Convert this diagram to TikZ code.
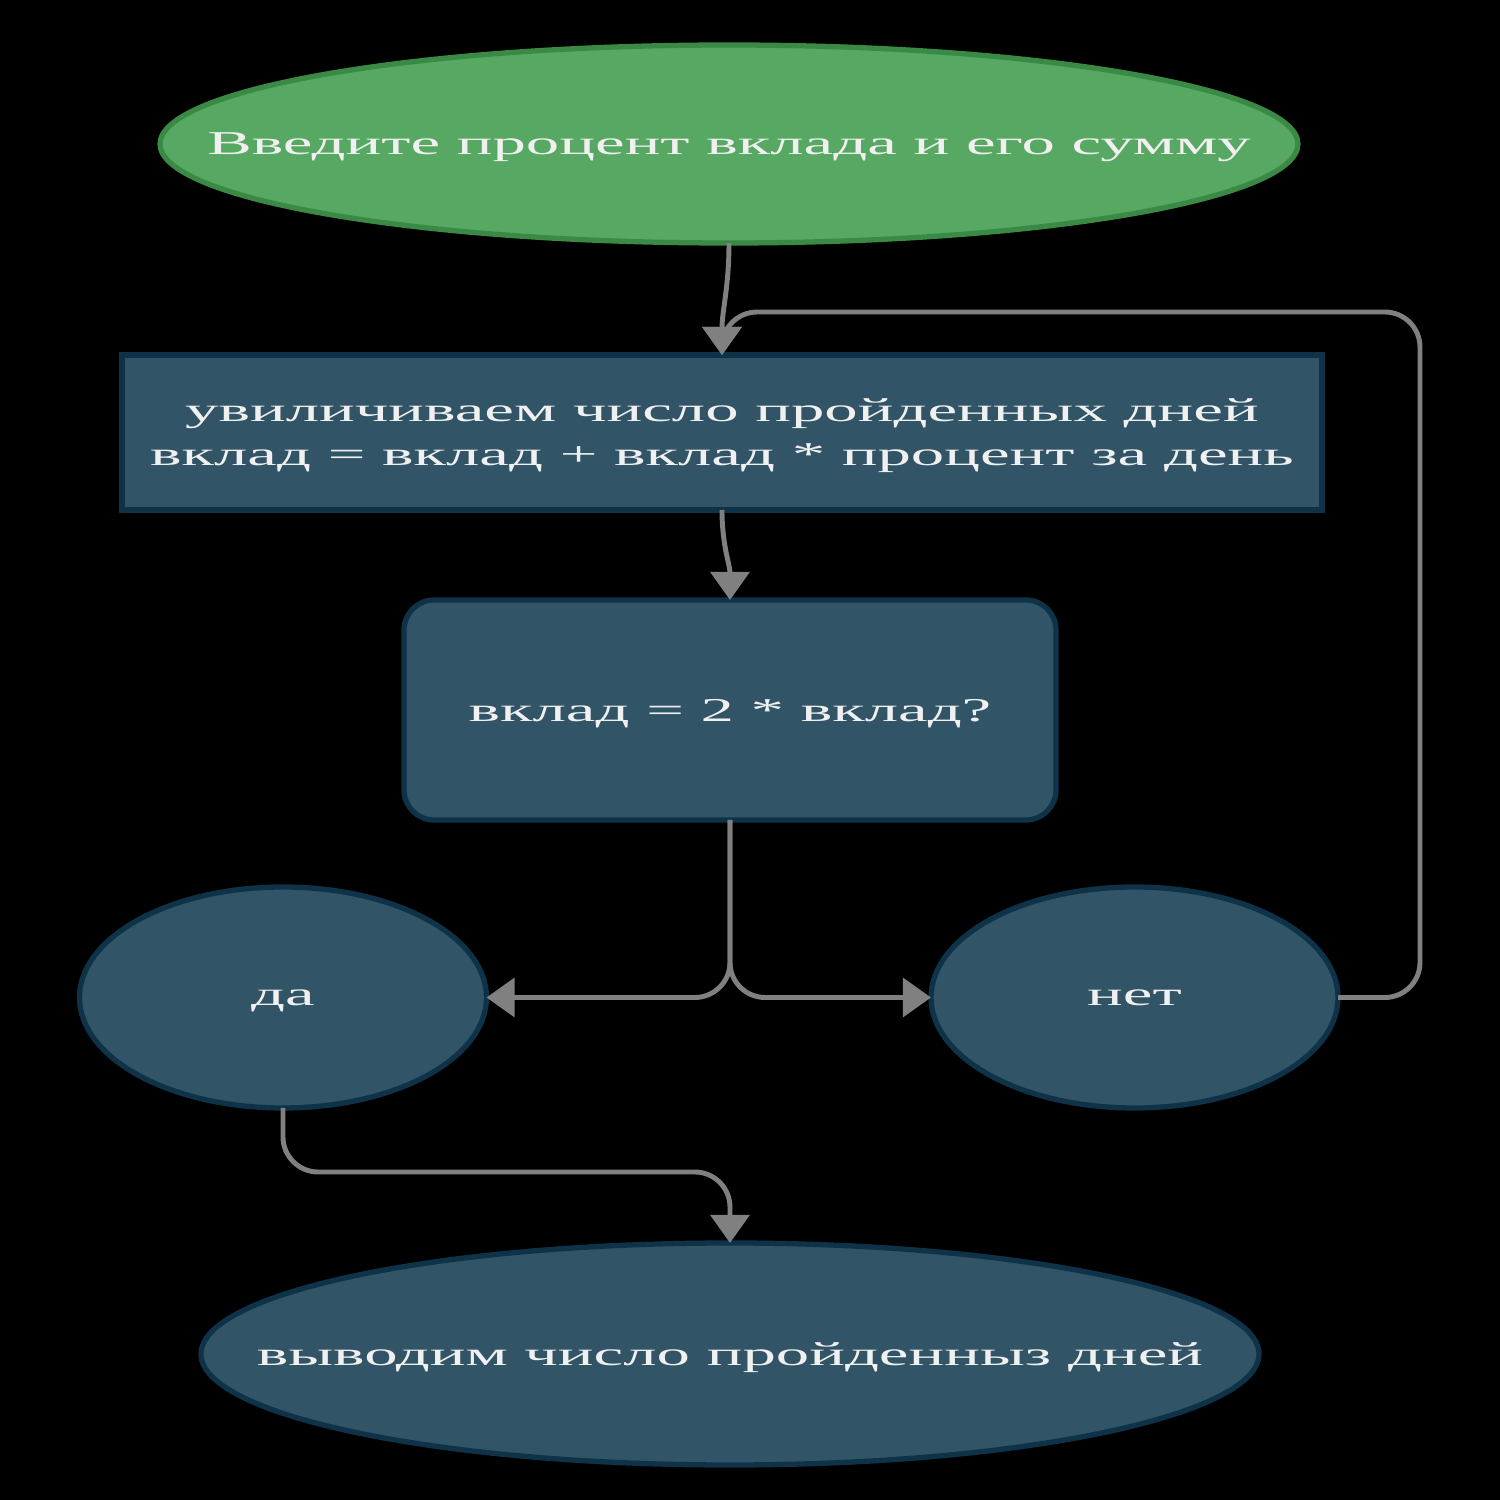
\documentclass[tikz,border=0pt]{standalone}
\usepackage{fontspec}
\setmainfont{Liberation Serif}[FakeStretch=2.0]
\usetikzlibrary{arrows.meta}
\usetikzlibrary{calc}
\usetikzlibrary{positioning}
\usetikzlibrary{shapes.geometric}
\definecolor{termgreen}{HTML}{57A862}
\definecolor{termgreenline}{HTML}{3A8A45}
\definecolor{blockfill}{HTML}{315466}
\definecolor{blockline}{HTML}{0E3349}
\definecolor{arrowgray}{HTML}{808080}
\tikzstyle{txt} = [text=white!94!black, font=\fontsize{9.5pt}{12.5pt}\selectfont, align=center, inner sep=0pt, outer sep=0pt, text depth=0pt]
\tikzstyle{startnode} = [txt, ellipse, inner sep=-2cm, fill=termgreen, draw=termgreenline, line width=1.5pt, minimum width=11.38cm, minimum height=1.98cm]
\tikzstyle{stepbox} = [txt, rectangle, fill=blockfill, draw=blockline, line width=1.5pt, minimum width=12cm, minimum height=1.55cm]
\tikzstyle{testbox} = [txt, rectangle, rounded corners=0.3cm, fill=blockfill, draw=blockline, line width=1.5pt, minimum width=6.52cm, minimum height=2.2cm]
\tikzstyle{answer} = [txt, ellipse, fill=blockfill, draw=blockline, line width=1.5pt, minimum width=4.07cm, minimum height=2.21cm]
\tikzstyle{endnode} = [txt, ellipse, inner sep=-2cm, fill=blockfill, draw=blockline, line width=1.5pt, minimum width=10.58cm, minimum height=2.22cm]
\tikzstyle{flow} = [line width=1.4pt, draw=arrowgray, -{Triangle[length=8pt,width=11pt]}]

\begin{document}
\begin{tikzpicture}
\fill[black] (0,0) rectangle (15,15);
\useasboundingbox (0,0) rectangle (15,15);
\node[startnode] (start) at (7.29,13.56) {Введите процент вклада и его сумму};
\node[stepbox, below=1.12cm of start, xshift=-0.07cm] (inc) {увиличиваем число пройденных дней\\вклад = вклад + вклад * процент за день};
\node[testbox, below=0.9cm of inc, xshift=0.08cm] (check) {вклад = 2 * вклад?};
\node[answer, below=0.67cm of check, xshift=-4.47cm] (yes) {да};
\node[answer, right=4.445cm of yes] (no) {нет};
\node[endnode, below=4.23cm of check] (out) {выводим число пройденныз дней};
\coordinate (loopR) at (14.2,11.88);
\draw[flow] (start.south) to[out=-90,in=90] (inc.north);
\draw[flow] (inc.south) to[out=-90,in=90] (check.north);
\draw[flow, rounded corners=10pt] (check.south) |- (yes.east);
\draw[flow, rounded corners=10pt] (check.south) |- (no.west);
\draw[flow, rounded corners=10pt] (no.east) -| (loopR) -| (inc.north);
\draw[flow, rounded corners=10pt] (yes.south) -- ++(0,-0.64) -| (out.north);
\end{tikzpicture}
\end{document}
